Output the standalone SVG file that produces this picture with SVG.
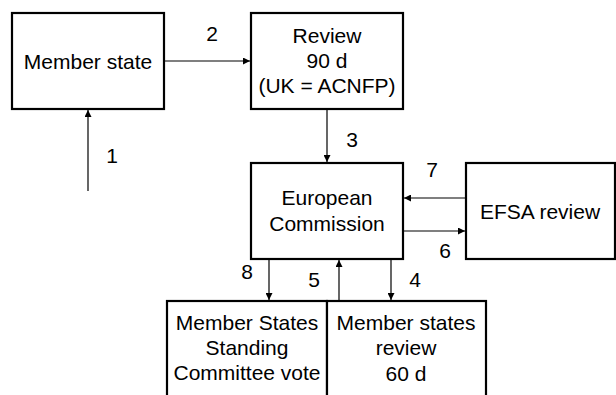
<svg xmlns="http://www.w3.org/2000/svg" width="616" height="395" viewBox="0 0 616 395">
<style>
.box{fill:#fff;stroke:#000;stroke-width:2.2}
.t{font-family:"Liberation Sans",Arial,sans-serif;font-size:21px;fill:#000;text-anchor:middle}
.c{stroke:#000;stroke-width:1.2;fill:none}
</style>
<defs>
<marker id="ah" viewBox="0 0 10 10" refX="10" refY="5" markerWidth="7" markerHeight="7" markerUnits="userSpaceOnUse" orient="auto">
<path d="M0,0 L10,5 L0,10 z" fill="#000"/>
</marker>
</defs>
<rect width="616" height="395" fill="#fff"/>
<g id="member-state">
<rect class="box" x="12" y="13" width="152" height="96"/>
<text class="t" x="88" y="69">Member state</text>
</g>
<g id="review">
<rect class="box" x="251" y="13" width="152" height="96"/>
<text class="t" x="327" y="43">Review</text>
<text class="t" x="327" y="68">90 d</text>
<text class="t" x="327" y="93">(UK = ACNFP)</text>
</g>
<g id="european-commission">
<rect class="box" x="251" y="163" width="152" height="96"/>
<text class="t" x="327" y="205">European</text>
<text class="t" x="327" y="231">Commission</text>
</g>
<g id="efsa-review">
<rect class="box" x="466" y="163" width="149" height="96"/>
<text class="t" x="540" y="219">EFSA review</text>
</g>
<g id="standing-committee">
<rect class="box" x="167" y="301" width="160" height="110"/>
<text class="t" x="247" y="330">Member States</text>
<text class="t" x="247" y="355">Standing</text>
<text class="t" x="247" y="380">Committee vote</text>
</g>
<g id="member-states-review">
<rect class="box" x="327" y="301" width="159" height="110"/>
<text class="t" x="406" y="330">Member states</text>
<text class="t" x="406" y="355">review</text>
<text class="t" x="406" y="381">60 d</text>
</g>
<g id="connectors">
<line class="c" x1="88" y1="191" x2="88" y2="110" marker-end="url(#ah)"/>
<line class="c" x1="164" y1="61" x2="250" y2="61" marker-end="url(#ah)"/>
<line class="c" x1="327" y1="109" x2="327" y2="162" marker-end="url(#ah)"/>
<line class="c" x1="466" y1="198" x2="404" y2="198" marker-end="url(#ah)"/>
<line class="c" x1="403" y1="231" x2="465" y2="231" marker-end="url(#ah)"/>
<line class="c" x1="269" y1="259" x2="269" y2="300" marker-end="url(#ah)"/>
<line class="c" x1="339" y1="300" x2="339" y2="260" marker-end="url(#ah)"/>
<line class="c" x1="391" y1="259" x2="391" y2="300" marker-end="url(#ah)"/>
<text class="t" x="112" y="163">1</text>
<text class="t" x="212" y="41">2</text>
<text class="t" x="352" y="147">3</text>
<text class="t" x="415" y="287">4</text>
<text class="t" x="314" y="287">5</text>
<text class="t" x="445" y="258">6</text>
<text class="t" x="432" y="177">7</text>
<text class="t" x="247" y="279">8</text>
</g>
</svg>
